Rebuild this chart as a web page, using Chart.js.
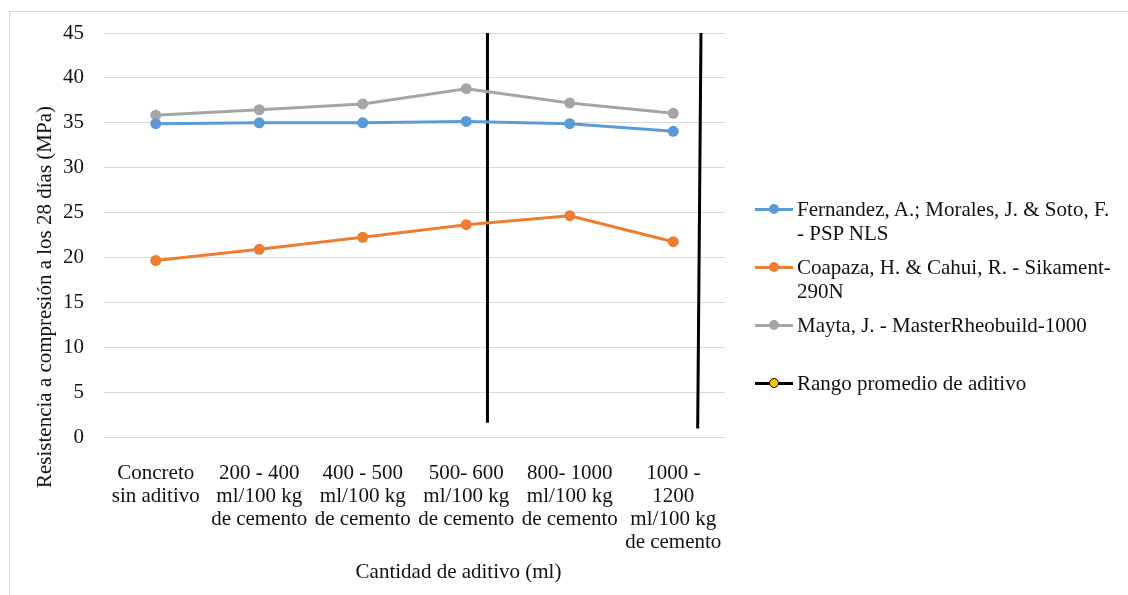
<!DOCTYPE html>
<html>
<head>
<meta charset="utf-8">
<script src="https://cdn.jsdelivr.net/npm/chart.js@4.4.1/dist/chart.umd.min.js"></script>
<style>
    html, body { margin: 0; padding: 0; background: #fff; overflow: hidden; }
    #wrap { position: relative; width: 1128px; height: 595px; }
    #frame { position: absolute; left: 9px; top: 11px; width: 1200px; height: 700px; border: 1px solid #d9d9d9; }
    #chart1 { position: absolute; left: 0; top: 0; }
    #legend { position: absolute; left: 755px; top: 197px; font-family: "Liberation Serif", "Times New Roman", serif; font-size: 21px; color: #111; }
    .item { display: flex; align-items: flex-start; margin-bottom: 10px; }
    .item.gap { margin-top: 34px; }
    .mark { position: relative; width: 38px; height: 24px; flex: none; margin-right: 4px; }
    .mark .ln { position: absolute; left: 0; right: 0; top: 11px; height: 3px; }
    .mark .dot { position: absolute; left: 14px; top: 7px; width: 10px; height: 10px; border-radius: 50%; box-sizing: border-box; }
    .txt { line-height: 24px; white-space: pre; }
</style>
</head>
<body>
<div id="wrap">
    <div id="frame"></div>
    <canvas id="chart1" width="1128" height="595"></canvas>
    <div id="legend"></div>
</div>
<script>
// DATA
var categories = [
    ["Concreto", "sin aditivo"],
    ["200 - 400", "ml/100 kg", "de cemento"],
    ["400 - 500", "ml/100 kg", "de cemento"],
    ["500- 600", "ml/100 kg", "de cemento"],
    ["800- 1000", "ml/100 kg", "de cemento"],
    ["1000 -", "1200", "ml/100 kg", "de cemento"]
];
var fernandez = [34.9, 35.0, 35.0, 35.15, 34.9, 34.05];
var coapaza = [19.65, 20.9, 22.25, 23.65, 24.65, 21.75];
var mayta = [35.85, 36.45, 37.1, 38.8, 37.2, 36.05];
// vertical range lines (x in category units, null splits the two lines)
var rangoX = [3.205, 3.205, 4.2, 5.268, 5.236];
var rangoY = [45, 1.6, null, 45, 0.95];
var yTicks = [0, 5, 10, 15, 20, 25, 30, 35, 40, 45];

var seriesNames = [
    "Fernandez, A.; Morales, J. & Soto, F.\n- PSP NLS",
    "Coapaza, H. & Cahui, R. - Sikament-\n290N",
    "Mayta, J. - MasterRheobuild-1000",
    "Rango promedio de aditivo"
];

var FONT = "'Liberation Serif', 'Times New Roman', serif";

var rangoPoints = [];
for (let i = 0; i < rangoX.length; i++) {
    rangoPoints.push({ x: rangoX[i], y: rangoY[i] });
}

// axis titles drawn next to the plot area
var axisTitles = {
    id: 'axisTitles',
    afterDraw: function (chart) {
        var ctx = chart.ctx;
        var area = chart.chartArea;
        ctx.save();
        ctx.fillStyle = '#111';
        ctx.font = "21px " + FONT;
        ctx.textAlign = 'center';
        ctx.textBaseline = 'middle';
        ctx.fillText("Cantidad de aditivo (ml)", (area.left + area.right) / 2 + 44, area.bottom + 135);
        ctx.translate(45, (area.top + area.bottom) / 2 + 62);
        ctx.rotate(-Math.PI / 2);
        ctx.fillText("Resistencia a compresión a los 28 días (MPa)", 0, 0);
        ctx.restore();
    }
};

var ctxChart1 = document.getElementById('chart1').getContext('2d');
var chart1 = new Chart(ctxChart1, {
    type: 'line',
    plugins: [axisTitles],
    data: {
        labels: categories,
        datasets: [{
            label: seriesNames[0].replace("\n", " "),
            data: fernandez,
            borderColor: '#5B9BD5',
            backgroundColor: '#5B9BD5',
            borderWidth: 3,
            pointRadius: 5.5,
            pointBorderWidth: 0
        }, {
            label: seriesNames[1].replace("\n", " "),
            data: coapaza,
            borderColor: '#ED7D31',
            backgroundColor: '#ED7D31',
            borderWidth: 3,
            pointRadius: 5.5,
            pointBorderWidth: 0
        }, {
            label: seriesNames[2],
            data: mayta,
            borderColor: '#A5A5A5',
            backgroundColor: '#A5A5A5',
            borderWidth: 3,
            pointRadius: 5.5,
            pointBorderWidth: 0
        }, {
            label: seriesNames[3],
            data: rangoPoints,
            xAxisID: 'x2',
            borderColor: '#000000',
            backgroundColor: '#FFC000',
            borderWidth: 3,
            pointRadius: 0,
            spanGaps: false
        }]
    }, options: {
        responsive: false,
        animation: false,
        layout: { padding: { top: 33, left: 0, right: 403, bottom: 0 } },
        plugins: {
            legend: { display: false },
            title: { display: false },
            tooltip: { enabled: false }
        }, scales: {
            x: {
                type: 'category',
                offset: true,
                grid: { display: false },
                border: { display: false },
                ticks: {
                    color: '#111',
                    font: { family: FONT, size: 21, lineHeight: 1.1 },
                    maxRotation: 0,
                    autoSkip: false,
                    padding: 17
                },
                afterFit: function (scale) { scale.height = 158; }
            },
            x2: {
                type: 'linear',
                display: false,
                min: -0.5,
                max: 5.5
            },
            y: {
                min: 0,
                max: 45,
                afterBuildTicks: function (scale) {
                    scale.ticks = yTicks.map(function (v) { return { value: v }; });
                },
                grid: { color: '#d9d9d9', lineWidth: 1, drawTicks: false },
                border: { display: false },
                ticks: {
                    color: '#111',
                    font: { family: FONT, size: 21 },
                    padding: 20
                },
                afterFit: function (scale) { scale.width = 104; }
            }
        }
    },
});

// LEGEND
var legendHtml = "";
chart1.data.datasets.forEach(function (ds, i) {
    var dotStyle = "background:" + ds.backgroundColor + ";";
    if (i === 3) dotStyle += "border:1.5px solid #000;";
    legendHtml += '<div class="item' + (i === 3 ? ' gap' : '') + '">' +
        '<span class="mark"><span class="ln" style="background:' + ds.borderColor + '"></span>' +
        '<span class="dot" style="' + dotStyle + '"></span></span>' +
        '<span class="txt">' + seriesNames[i] + '</span></div>';
});
document.getElementById('legend').innerHTML = legendHtml;
</script>
</body>
</html>
